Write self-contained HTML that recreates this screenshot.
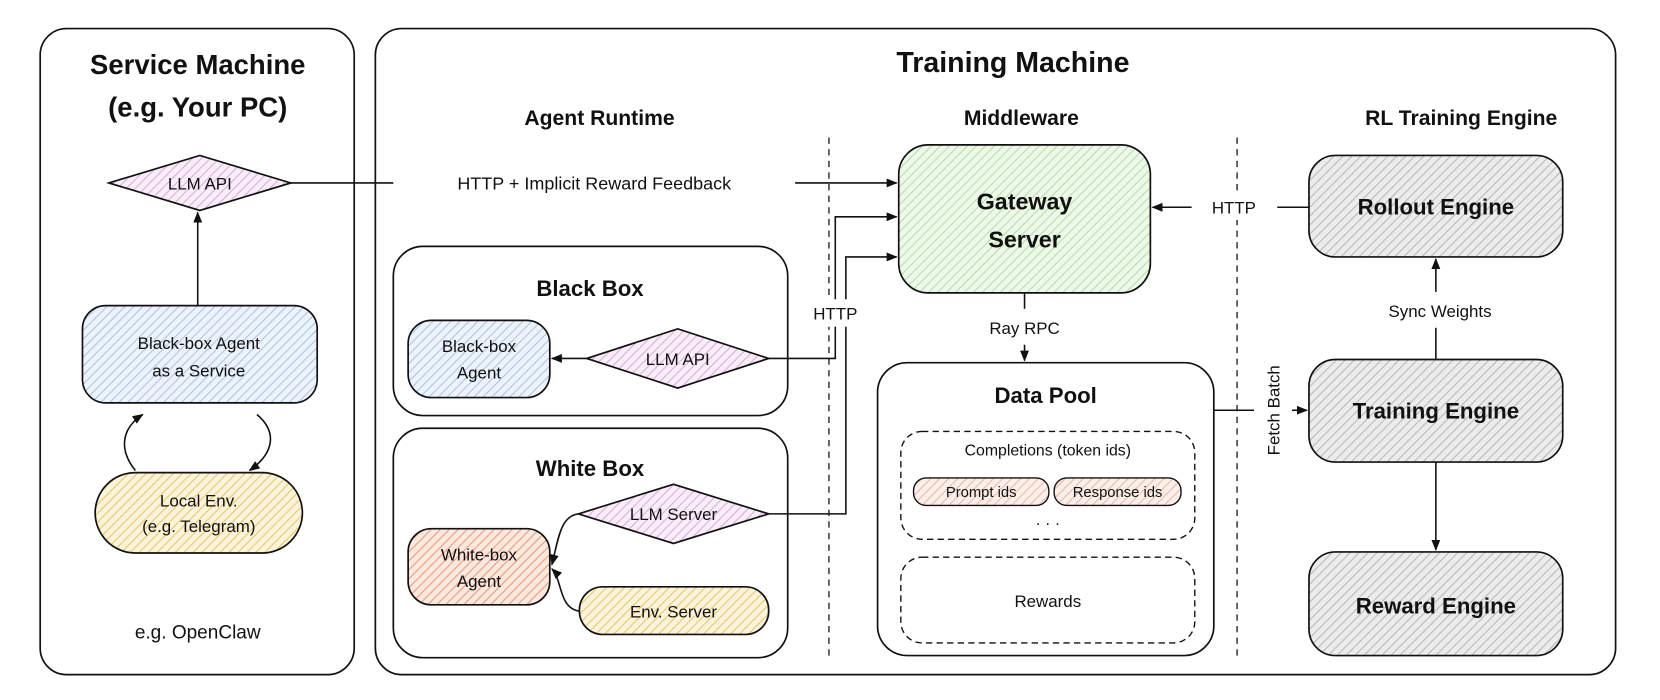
<!DOCTYPE html>
<html><head><meta charset="utf-8"><style>
html,body{margin:0;padding:0;background:#fff;}
svg{display:block;}
text{font-family:"Liberation Sans",sans-serif;fill:#111;text-anchor:middle;}
</style></head><body>
<svg width="1660" height="700" viewBox="0 0 1570 662" xmlns="http://www.w3.org/2000/svg">
<defs>
<pattern id="hb" width="6" height="6" patternUnits="userSpaceOnUse" patternTransform="rotate(45)"><rect width="6" height="6" fill="#eef3fb"/><line x1="0" y1="0" x2="0" y2="6" stroke="#a8c3e8" stroke-width="2"/></pattern>
<pattern id="hp" width="6" height="6" patternUnits="userSpaceOnUse" patternTransform="rotate(45)"><rect width="6" height="6" fill="#f8eef8"/><line x1="0" y1="0" x2="0" y2="6" stroke="#dcaadc" stroke-width="2"/></pattern>
<pattern id="hy" width="6" height="6" patternUnits="userSpaceOnUse" patternTransform="rotate(45)"><rect width="6" height="6" fill="#fbf3dc"/><line x1="0" y1="0" x2="0" y2="6" stroke="#e8c866" stroke-width="2"/></pattern>
<pattern id="ho" width="6" height="6" patternUnits="userSpaceOnUse" patternTransform="rotate(45)"><rect width="6" height="6" fill="#fbe8df"/><line x1="0" y1="0" x2="0" y2="6" stroke="#e99a7a" stroke-width="2"/></pattern>
<pattern id="hr" width="6" height="6" patternUnits="userSpaceOnUse" patternTransform="rotate(45)"><rect width="6" height="6" fill="#fbefea"/><line x1="0" y1="0" x2="0" y2="6" stroke="#ebb8a8" stroke-width="2"/></pattern>
<pattern id="hg" width="6" height="6" patternUnits="userSpaceOnUse" patternTransform="rotate(45)"><rect width="6" height="6" fill="#eef8ea"/><line x1="0" y1="0" x2="0" y2="6" stroke="#b5dea5" stroke-width="2"/></pattern>
<pattern id="hk" width="6" height="6" patternUnits="userSpaceOnUse" patternTransform="rotate(45)"><rect width="6" height="6" fill="#ececec"/><line x1="0" y1="0" x2="0" y2="6" stroke="#b8b8b8" stroke-width="2"/></pattern>
<marker id="a" viewBox="0 0 10 10" refX="9" refY="5" markerWidth="7" markerHeight="7" orient="auto"><path d="M0,1 L10,5 L0,9 z" fill="#111"/></marker>
</defs>
<g fill="none" stroke="#111" stroke-width="1.6">
<rect x="38" y="27" width="297" height="611" rx="25"/>
<rect x="355" y="27" width="1173" height="611" rx="25"/>
<line x1="784" y1="130" x2="784" y2="622" stroke-dasharray="6,5" stroke-width="1.2"/>
<line x1="1170" y1="130" x2="1170" y2="622" stroke-dasharray="6,5" stroke-width="1.2"/>
<rect x="372" y="233" width="373" height="160" rx="28"/>
<rect x="372" y="405" width="373" height="217" rx="28"/>
<rect x="830" y="343" width="318" height="277" rx="28"/>
<rect x="852" y="408" width="278" height="102" rx="20" stroke-dasharray="6,4" stroke-width="1.3"/>
<rect x="852" y="527" width="278" height="81" rx="20" stroke-dasharray="6,4" stroke-width="1.3"/>
</g>
<g stroke="#111" stroke-width="1.6">
<polygon points="103,173 189,147 275,173 189,199" fill="url(#hp)"/>
<rect x="78" y="289" width="222" height="92" rx="22" fill="url(#hb)"/>
<rect x="90" y="447" width="196" height="76" rx="38" fill="url(#hy)"/>
<rect x="386" y="303" width="134" height="73" rx="22" fill="url(#hb)"/>
<polygon points="555,339 641,311 727,339 641,367" fill="url(#hp)"/>
<polygon points="547,486 637,458 727,486 637,514" fill="url(#hp)"/>
<rect x="386" y="500" width="134" height="72" rx="22" fill="url(#ho)"/>
<rect x="548" y="555" width="179" height="45" rx="22" fill="url(#hy)"/>
<rect x="850" y="137" width="238" height="140" rx="28" fill="url(#hg)"/>
<rect x="864" y="452" width="128" height="26" rx="12" fill="url(#hr)" stroke-width="1.3"/>
<rect x="997" y="452" width="120" height="26" rx="12" fill="url(#hr)" stroke-width="1.3"/>
<rect x="1238" y="147" width="240" height="96" rx="25" fill="url(#hk)"/>
<rect x="1238" y="340" width="240" height="97" rx="25" fill="url(#hk)"/>
<rect x="1238" y="522" width="240" height="98" rx="25" fill="url(#hk)"/>
</g>
<g fill="none" stroke="#111" stroke-width="1.5">
<line x1="187" y1="289" x2="187" y2="201" marker-end="url(#a)"/>
<path d="M128,445 C112,425 115,405 135,392" marker-end="url(#a)"/>
<path d="M243,392 C262,408 260,428 236,445" marker-end="url(#a)"/>
<line x1="275" y1="173" x2="372" y2="173"/>
<line x1="752" y1="173" x2="848" y2="173" marker-end="url(#a)"/>
<line x1="555" y1="339" x2="522" y2="339" marker-end="url(#a)"/>
<polyline points="727,339 790,339 790,205 848,205" marker-end="url(#a)"/>
<polyline points="727,486 800,486 800,243 848,243" marker-end="url(#a)"/>
<path d="M547,486 C530,488 528,510 522,534" marker-end="url(#a)"/>
<path d="M548,578 C528,575 532,548 522,538" marker-end="url(#a)"/>
<line x1="969" y1="277" x2="969" y2="292"/>
<line x1="969" y1="326" x2="969" y2="341" marker-end="url(#a)"/>
<line x1="1148" y1="388" x2="1186" y2="388"/>
<line x1="1222" y1="388" x2="1236" y2="388" marker-end="url(#a)"/>
<line x1="1238" y1="196" x2="1208" y2="196"/>
<line x1="1127" y1="196" x2="1090" y2="196" marker-end="url(#a)"/>
<line x1="1358" y1="340" x2="1358" y2="310"/>
<line x1="1358" y1="276" x2="1358" y2="245" marker-end="url(#a)"/>
<line x1="1358" y1="437" x2="1358" y2="520" marker-end="url(#a)"/>
</g>
<rect x="770" y="283" width="40" height="26" fill="#fff"/>
<rect x="1140" y="182" width="54" height="26" fill="#fff"/>
<g font-weight="bold">
<text x="187" y="70" font-size="26">Service Machine</text>
<text x="187" y="110" font-size="26">(e.g. Your PC)</text>
<text x="958" y="68" font-size="27">Training Machine</text>
<text x="567" y="118" font-size="20">Agent Runtime</text>
<text x="966" y="118" font-size="20">Middleware</text>
<text x="1382" y="118" font-size="20">RL Training Engine</text>
<text x="558" y="280" font-size="21">Black Box</text>
<text x="558" y="450" font-size="21">White Box</text>
<text x="989" y="381" font-size="21">Data Pool</text>
<text x="969" y="198" font-size="22">Gateway</text>
<text x="969" y="234" font-size="22">Server</text>
<text x="1358" y="203" font-size="21">Rollout Engine</text>
<text x="1358" y="396" font-size="21">Training Engine</text>
<text x="1358" y="580" font-size="21">Reward Engine</text>
</g>
<g font-size="16">
<text x="189" y="179">LLM API</text>
<text x="188" y="330">Black-box Agent</text>
<text x="188" y="356">as a Service</text>
<text x="188" y="479">Local Env.</text>
<text x="188" y="503">(e.g. Telegram)</text>
<text x="187" y="604" font-size="18">e.g. OpenClaw</text>
<text x="562" y="179" font-size="17">HTTP + Implicit Reward Feedback</text>
<text x="453" y="333">Black-box</text>
<text x="453" y="358">Agent</text>
<text x="641" y="345">LLM API</text>
<text x="637" y="492">LLM Server</text>
<text x="453" y="530">White-box</text>
<text x="453" y="555">Agent</text>
<text x="637" y="584">Env. Server</text>
<text x="790" y="302">HTTP</text>
<text x="969" y="316">Ray RPC</text>
<text x="1167" y="202">HTTP</text>
<text x="1362" y="300">Sync Weights</text>
<text x="991" y="431" font-size="15">Completions (token ids)</text>
<text x="928" y="470" font-size="14">Prompt ids</text>
<text x="1057" y="470" font-size="14">Response ids</text>
<text x="991" y="500" font-size="15">· · ·</text>
<text x="991" y="574">Rewards</text>
<text x="0" y="0" transform="translate(1210,388) rotate(-90)">Fetch Batch</text>
</g>
</svg>
</body></html>
